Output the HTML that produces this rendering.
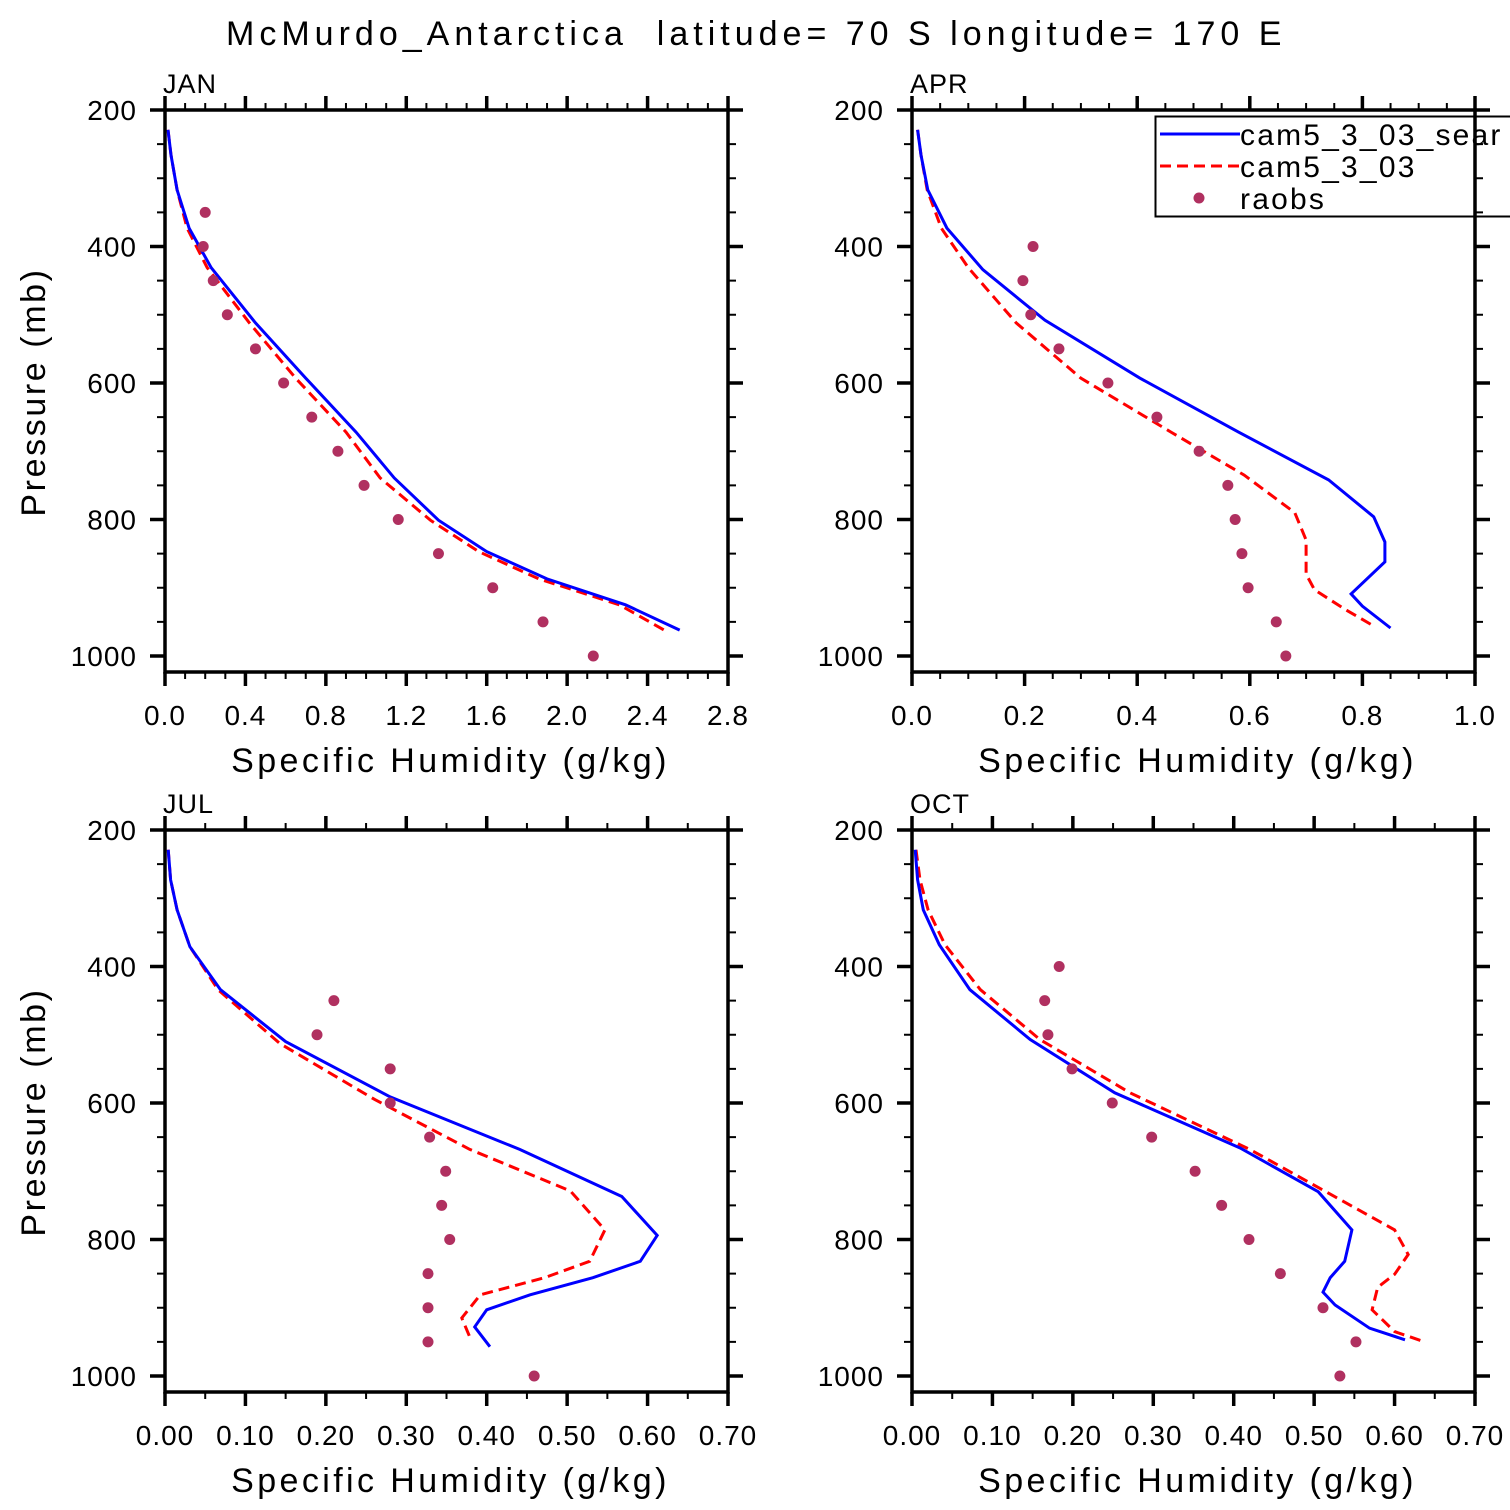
<!DOCTYPE html>
<html><head><meta charset="utf-8"><style>
html,body{margin:0;padding:0;background:#fff}
svg{display:block}
text{font-family:"Liberation Sans","DejaVu Sans",sans-serif;fill:#000;white-space:pre}
</style></head><body>
<svg id="chart" width="1510" height="1510" viewBox="0 0 1510 1510" xmlns="http://www.w3.org/2000/svg">
<rect width="1510" height="1510" fill="#fff"/>
<text x="755" y="45" font-size="34" text-anchor="middle" letter-spacing="2.6" textLength="1058" lengthAdjust="spacing">McMurdo_Antarctica  latitude= 70 S longitude= 170 E</text>
</svg>
<script>
// ---- data ----
const janBlueP = [229,266,317,373,431,512,593,672,739,801,847,887,925,962];
const janBlueQ = [0.015,0.03,0.06,0.12,0.23,0.45,0.70,0.95,1.14,1.36,1.60,1.90,2.29,2.56];
const janRedP = [229,266,317,373,431,512,593,672,739,801,847,887,925,965];
const janRedQ = [0.015,0.03,0.06,0.11,0.21,0.42,0.65,0.90,1.07,1.32,1.56,1.86,2.26,2.50];
const janObsP = [350,400,450,500,550,600,650,700,750,800,850,900,950,1000];
const janObsQ = [0.20,0.19,0.24,0.31,0.45,0.59,0.73,0.86,0.99,1.16,1.36,1.63,1.88,2.13];

const aprBlueP = [229,266,317,373,434,508,593,672,742,796,833,862,909,927,959];
const aprBlueQ = [0.01,0.016,0.028,0.062,0.126,0.236,0.405,0.58,0.74,0.82,0.84,0.84,0.78,0.80,0.85];
const aprRedP = [229,266,317,373,431,512,593,672,735,790,830,880,903,932,956];
const aprRedQ = [0.01,0.016,0.027,0.052,0.10,0.185,0.30,0.46,0.59,0.68,0.70,0.70,0.715,0.77,0.82];
const aprObsP = [400,450,500,550,600,650,700,750,800,850,900,950,1000];
const aprObsQ = [0.215,0.197,0.211,0.261,0.348,0.435,0.510,0.561,0.574,0.586,0.597,0.647,0.664];

const julBlueP = [229,273,317,371,434,510,591,668,737,794,832,856,881,903,928,957];
const julBlueQ = [0.004,0.007,0.015,0.031,0.069,0.150,0.280,0.441,0.568,0.612,0.591,0.532,0.454,0.400,0.385,0.404];
const julRedP = [229,273,317,371,434,513,595,668,729,786,832,856,881,915,943];
const julRedQ = [0.004,0.007,0.015,0.031,0.066,0.143,0.261,0.379,0.504,0.547,0.528,0.472,0.392,0.369,0.379];
const julObsP = [450,500,550,600,650,700,750,800,850,900,950,1000];
const julObsQ = [0.210,0.189,0.280,0.280,0.329,0.349,0.344,0.354,0.327,0.327,0.327,0.459];

const octBlueP = [229,273,317,368,434,507,585,666,730,786,832,856,877,896,930,947];
const octBlueQ = [0.004,0.007,0.014,0.034,0.072,0.147,0.252,0.408,0.505,0.547,0.538,0.520,0.511,0.526,0.569,0.613];
const octRedP = [229,273,317,368,434,507,585,668,786,822,851,870,903,935,949];
const octRedQ = [0.005,0.01,0.02,0.041,0.085,0.159,0.271,0.42,0.60,0.617,0.60,0.579,0.572,0.600,0.635];
const octObsP = [400,450,500,550,600,650,700,750,800,850,900,950,1000];
const octObsQ = [0.183,0.165,0.169,0.199,0.249,0.298,0.352,0.385,0.419,0.458,0.511,0.552,0.532];

const janTicks = ["0.0","0.4","0.8","1.2","1.6","2.0","2.4","2.8"];
const aprTicks = ["0.0","0.2","0.4","0.6","0.8","1.0"];
const julTicks = ["0.00","0.10","0.20","0.30","0.40","0.50","0.60","0.70"];
const octTicks = ["0.00","0.10","0.20","0.30","0.40","0.50","0.60","0.70"];
const pTicks = [200,400,600,800,1000];

const NS="http://www.w3.org/2000/svg";
const svg=document.getElementById('chart');
function mk(tag,attrs,parent){const e=document.createElementNS(NS,tag);for(const k in attrs)e.setAttribute(k,attrs[k]);(parent||svg).appendChild(e);return e;}

function panel(name,x0,y0,xmax,ticks,minorPer,bP,bQ,rP,rQ,oP,oQ,showYTitle,legend){
  const W=563,H=562;
  const g=mk('g',{});
  
  
  const xs=v=>x0+v/xmax*W;
  const ys=p=>y0+(p-200)*0.6825;
  const lab=mk('text',{x:x0-2,y:y0-17,'font-size':27,'letter-spacing':1},g);lab.textContent=name.toUpperCase();
  
  
  const pts=(P,Q)=>P.map((p,i)=>xs(Q[i]).toFixed(1)+','+ys(p).toFixed(1)).join(' ');
  const red=mk('polyline',{points:pts(rP,rQ),fill:'none',stroke:'#ff0000','stroke-width':3,'stroke-dasharray':'11,6'},g);
  
  
  const blue=mk('polyline',{points:pts(bP,bQ),fill:'none',stroke:'#0000ff','stroke-width':3},g);
  
  
  oP.forEach((p,i)=>{const c=mk('circle',{cx:xs(oQ[i]),cy:ys(p),r:5.5,fill:'#b03060'},g);
    
    });
  if(legend){
    const lg=mk('g',{},g);
    
    
    mk('rect',{x:1155.5,y:116.5,width:400,height:100,fill:'#fff',stroke:'#000','stroke-width':2},lg);
    mk('line',{x1:1160,y1:134,x2:1240,y2:134,stroke:'#0000ff','stroke-width':3},lg);
    mk('line',{x1:1160,y1:166,x2:1240,y2:166,stroke:'#ff0000','stroke-width':3,'stroke-dasharray':'11,6'},lg);
    mk('circle',{cx:1199,cy:198,r:5.5,fill:'#b03060'},lg);
    const names=['cam5_3_03_sear','cam5_3_03','raobs'];
    names.forEach((t,i)=>{const tx=mk('text',{x:1240,y:145+i*32,'font-size':30,'letter-spacing':2.2},lg);tx.textContent=t;
      
      });
  }
  mk('rect',{x:x0,y:y0,width:W,height:H,fill:'none',stroke:'#000','stroke-width':3.5},g);
  const nMaj=ticks.length-1;
  for(let i=0;i<=nMaj*minorPer;i++){
    const x=x0+i*W/(nMaj*minorPer);const maj=i%minorPer===0;const L=maj?14:7;
    mk('line',{x1:x,y1:y0,x2:x,y2:y0-L,stroke:'#000','stroke-width':maj?3.5:2},g);
    mk('line',{x1:x,y1:y0+H,x2:x,y2:y0+H+L,stroke:'#000','stroke-width':maj?3.5:2},g);
  }
  ticks.forEach((t,i)=>{const tx=mk('text',{x:x0+i*W/nMaj,y:y0+H+53,'font-size':28,'text-anchor':'middle','letter-spacing':1},g);tx.textContent=t;
    
    });
  for(let p=200;p<=1000;p+=50){
    const y=ys(p);const maj=p%200===0;const L=maj?15:8;
    mk('line',{x1:x0,y1:y,x2:x0-L,y2:y,stroke:'#000','stroke-width':maj?3.5:2},g);
    mk('line',{x1:x0+W,y1:y,x2:x0+W+L,y2:y,stroke:'#000','stroke-width':maj?3.5:2},g);
  }
  pTicks.forEach(p=>{const tx=mk('text',{x:x0-28,y:ys(p)+10,'font-size':28,'text-anchor':'end','letter-spacing':1},g);tx.textContent=p;
    
    });
  const xt=mk('text',{x:x0+W/2+4,y:y0+H+100,'font-size':34,'text-anchor':'middle','letter-spacing':3.4},g);
  xt.textContent='Specific Humidity (g/kg)';
  
  
  if(showYTitle){
    const yt=mk('text',{x:0,y:0,'font-size':34,'text-anchor':'middle','letter-spacing':2.6,transform:`translate(45,${y0+H/2+1}) rotate(-90)`},g);
    yt.textContent='Pressure (mb)';
    
    
  }
}
panel('jan',165,110,2.8,janTicks,4,janBlueP,janBlueQ,janRedP,janRedQ,janObsP,janObsQ,true,false);
panel('apr',912,110,1.0,aprTicks,4,aprBlueP,aprBlueQ,aprRedP,aprRedQ,aprObsP,aprObsQ,false,true);
panel('jul',165,830,0.7,julTicks,2,julBlueP,julBlueQ,julRedP,julRedQ,julObsP,julObsQ,true,false);
panel('oct',912,830,0.7,octTicks,2,octBlueP,octBlueQ,octRedP,octRedQ,octObsP,octObsQ,false,false);
</script>
</body></html>
